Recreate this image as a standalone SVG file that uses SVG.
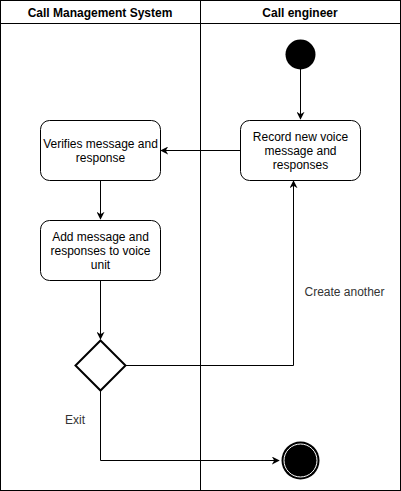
<svg xmlns="http://www.w3.org/2000/svg" width="401" height="491" viewBox="0 0 401 491">
<defs>
<style>
.t{font-family:"Liberation Sans",Arial,sans-serif;font-size:12px;fill:#000;text-anchor:middle}
.h{font-weight:bold}
.l{fill:#333}
.box{fill:#fff;stroke:#000;stroke-width:1}
.ln{fill:none;stroke:#000;stroke-width:1}
</style>
<marker id="a" viewBox="0 0 10 10" refX="9" refY="5" markerWidth="8" markerHeight="8" markerUnits="userSpaceOnUse" orient="auto">
<path d="M0,0 L10,5 L0,10 L3,5 Z" fill="#000"/>
</marker>
</defs>
<rect width="401" height="491" fill="#fff"/>
<g id="lanes">
<rect x="0.5" y="0.5" width="400" height="490" fill="none" stroke="#000"/>
<line x1="0.5" y1="23.5" x2="400.5" y2="23.5" stroke="#000"/>
<line x1="200.5" y1="0.5" x2="200.5" y2="490.5" stroke="#000"/>
<text class="t h" x="100" y="17">Call Management System</text>
<text class="t h" x="300" y="17">Call engineer</text>
</g>
<g id="connectors">
<path class="ln" d="M300.5,69 L300.5,119" marker-end="url(#a)"/>
<path class="ln" d="M240,150.5 L161,150.5" marker-end="url(#a)"/>
<path class="ln" d="M100.5,180 L100.5,219" marker-end="url(#a)"/>
<path class="ln" d="M100.5,280 L100.5,339" marker-end="url(#a)"/>
<path class="ln" d="M125,365.5 L293.5,365.5 L293.5,181" marker-end="url(#a)"/>
<path class="ln" d="M100.5,390 L100.5,460.5 L279,460.5" marker-end="url(#a)"/>
<text class="t l" x="344.5" y="296">Create another</text>
<text class="t l" x="75" y="424">Exit</text>
</g>
<g id="start">
<circle cx="300.5" cy="54.5" r="15" fill="#000"/>
</g>
<g id="record">
<rect class="box" x="240.5" y="120.5" width="120" height="60" rx="9"/>
<text class="t" x="300.5" y="141">Record new voice</text>
<text class="t" x="300.5" y="155">message and</text>
<text class="t" x="300.5" y="169">responses</text>
</g>
<g id="verifies">
<rect class="box" x="40.5" y="120.5" width="120" height="60" rx="9"/>
<text class="t" x="100.5" y="147.5">Verifies message and</text>
<text class="t" x="100.5" y="161.5">response</text>
</g>
<g id="add">
<rect class="box" x="40.5" y="220.5" width="120" height="60" rx="9"/>
<text class="t" x="100.5" y="241">Add message and</text>
<text class="t" x="100.5" y="255">responses to voice</text>
<text class="t" x="100.5" y="269">unit</text>
</g>
<g id="decision">
<path d="M100.5,340.5 L125.5,365.5 L100.5,390.5 L75.5,365.5 Z" fill="#fff" stroke="#000" stroke-width="2"/>
</g>
<g id="end">
<circle cx="300.5" cy="460.5" r="19" fill="#000"/>
<circle cx="300.5" cy="460.5" r="16.5" fill="none" stroke="#fff" stroke-width="1"/>
</g>
</svg>
